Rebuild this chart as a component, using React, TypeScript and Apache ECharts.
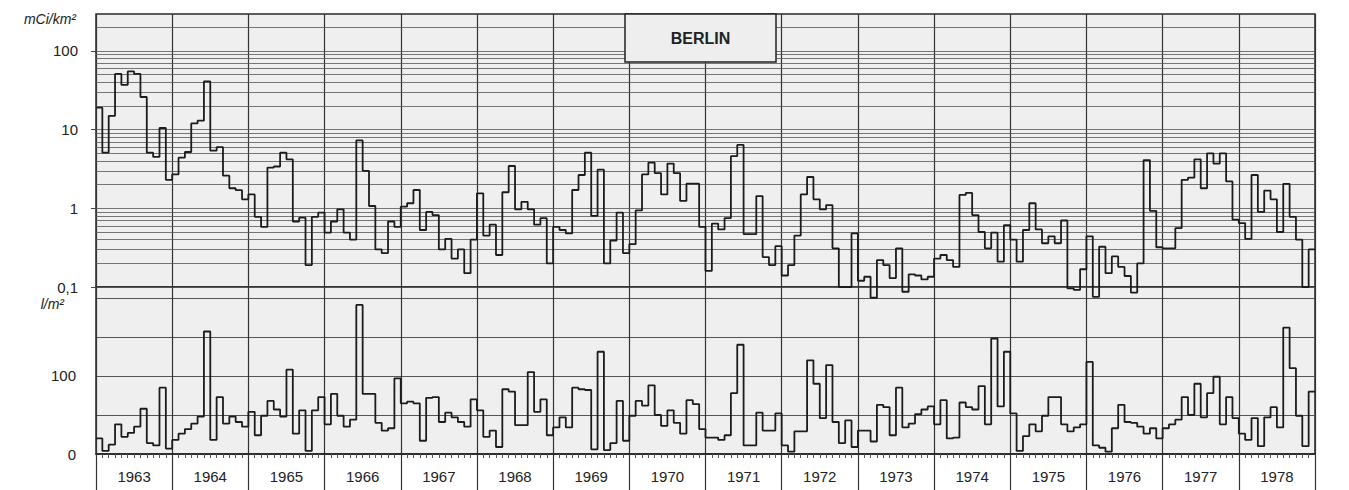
import React, { useEffect, useRef } from "react";
import * as echarts from "echarts";

// Years shown on the time axis (one column = 12 months)
const years = ["1963", "1964", "1965", "1966", "1967", "1968", "1969", "1970", "1971", "1972", "1973", "1974", "1975", "1976", "1977", "1978"];

// Monthly deposited activity, mCi/km² (log scale, upper panel)
const activity = [
  19, 5.1, 15, 51, 37, 55, 51, 26, 5.1, 4.5, 10.5, 2.3, // 1963
  2.7, 4.4, 5.2, 12, 13, 41, 5.4, 6.0, 2.6, 1.8, 1.7, 1.3, // 1964
  1.5, 0.78, 0.58, 3.3, 3.4, 5.1, 4.2, 0.68, 0.76, 0.19, 0.78, 0.88, // 1965
  0.49, 0.68, 0.97, 0.49, 0.4, 7.3, 3.0, 1.07, 0.3, 0.27, 0.68, 0.58, // 1966
  1.05, 1.16, 1.71, 0.53, 0.9, 0.82, 0.3, 0.41, 0.23, 0.3, 0.15, 0.4, // 1967
  1.55, 0.45, 0.62, 0.255, 1.6, 3.45, 0.97, 1.21, 0.97, 0.62, 0.75, 0.2, // 1968
  0.58, 0.53, 0.48, 1.71, 2.65, 5.1, 0.8, 3.1, 0.2, 0.39, 0.88, 0.27, // 1969
  0.35, 0.94, 2.7, 3.8, 2.8, 1.5, 3.7, 2.8, 1.24, 2.06, 2.06, 0.58, // 1970
  0.16, 0.64, 0.54, 0.75, 4.6, 6.4, 0.47, 0.47, 1.43, 0.24, 0.19, 0.33, // 1971
  0.14, 0.19, 0.45, 1.5, 2.5, 1.3, 0.97, 1.1, 0.31, 0.1, 0.1, 0.48, // 1972
  0.12, 0.135, 0.073, 0.22, 0.19, 0.13, 0.31, 0.087, 0.145, 0.14, 0.125, 0.135, // 1973
  0.23, 0.255, 0.22, 0.18, 1.48, 1.57, 0.82, 0.5, 0.31, 0.49, 0.21, 0.61, // 1974
  0.4, 0.21, 0.53, 1.16, 0.54, 0.36, 0.44, 0.36, 0.7, 0.096, 0.092, 0.168, // 1975
  0.44, 0.075, 0.325, 0.15, 0.245, 0.18, 0.138, 0.085, 0.2, 4.1, 0.93, 0.32, // 1976
  0.31, 0.31, 0.56, 2.3, 2.45, 4.2, 1.8, 5.0, 3.7, 5.0, 2.2, 0.72, // 1977
  0.65, 0.41, 2.65, 0.9, 1.68, 1.3, 0.5, 2.05, 0.78, 0.4, 0.1, 0.3, // 1978
];

// Monthly precipitation, l/m² (lower panel)
const rain = [
  20, 4, 12, 38, 22, 27, 35, 58, 14, 11, 85, 7, // 1963
  18, 26, 32, 39, 48, 157, 18, 73, 39, 48, 41, 35, // 1964
  54, 24, 49, 68, 57, 48, 108, 26, 56, 4, 56, 73, // 1965
  38, 77, 49, 35, 44, 191, 77, 77, 40, 30, 33, 97, // 1966
  65, 67, 65, 17, 72, 73, 41, 53, 47, 41, 35, 70, // 1967
  56, 22, 30, 9, 83, 80, 37, 37, 105, 54, 70, 24, // 1968
  34, 47, 34, 85, 83, 82, 6, 131, 5, 14, 68, 17, // 1969
  49, 68, 62, 88, 50, 36, 56, 40, 26, 69, 64, 32, // 1970
  21, 21, 18, 24, 78, 140, 11, 11, 53, 30, 30, 52, // 1971
  11, 3, 29, 29, 120, 90, 46, 114, 41, 14, 43, 9, // 1972
  30, 30, 16, 63, 60, 24, 85, 34, 39, 51, 57, 61, // 1973
  38, 69, 20, 21, 66, 60, 57, 87, 38, 148, 61, 131, // 1974
  52, 4, 23, 38, 29, 49, 73, 73, 38, 29, 34, 38, // 1975
  118, 11, 8, 3, 33, 63, 41, 40, 35, 26, 33, 20, // 1976
  33, 38, 44, 73, 50, 90, 47, 78, 99, 38, 73, 46, // 1977
  26, 18, 46, 10, 47, 60, 34, 162, 110, 49, 10, 80, // 1978
];

// Axis settings
const activityRange = [0.1, 295];
const activityDecades = [0.1, 1, 10, 100];
const rainRange = [0, 214];
const rainLabels = [0, 100];
const stationName = "BERLIN";

const FONT = '"Liberation Sans", Arial, Helvetica, sans-serif';

function stepData(arr: number[]) {
  const pts: number[][] = arr.map((v, i) => [i, v]);
  pts.push([arr.length, arr[arr.length - 1]]);
  return pts;
}

export default function App() {
  const ref = useRef<HTMLDivElement>(null);
  useEffect(() => {
    const chart = echarts.init(ref.current!, null, { renderer: "svg" });
    const months = years.length * 12;
    const levels: number[] = [];
    activityDecades.forEach((d) => {
      for (let k = 1; k <= 9; k++) {
        const v = k * d;
        if (v > activityRange[0] * 1.0001 && v < activityRange[1]) levels.push(v);
      }
    });
    const ink = "#1c1c1c";
    chart.setOption({
      animation: false,
      backgroundColor: "#ffffff",
      textStyle: { fontFamily: FONT },
      grid: [
        { left: 96, top: 14, width: 1219, height: 273, show: true, backgroundColor: "#efefef", borderColor: "#2a2a2a", borderWidth: 1.5 },
        { left: 96, top: 287, width: 1219, height: 167, show: true, backgroundColor: "#efefef", borderColor: "#2a2a2a", borderWidth: 1.5 },
      ],
      xAxis: [
        {
          type: "value", gridIndex: 0, min: 0, max: months, interval: 12,
          axisLabel: { show: false }, axisTick: { show: false }, axisLine: { show: false },
          splitLine: { show: true, lineStyle: { color: "#333", width: 1.2 } },
        },
        {
          type: "value", gridIndex: 1, min: 0, max: months, interval: 12,
          axisLabel: { show: false },
          axisLine: { show: true, lineStyle: { color: "#222", width: 1.5 } },
          axisTick: { show: true, length: 36, lineStyle: { color: "#333", width: 1.2 } },
          minorTick: { show: true, splitNumber: 12, length: 4, lineStyle: { color: "#555", width: 1 } },
          splitLine: { show: true, lineStyle: { color: "#333", width: 1.2 } },
        },
        {
          type: "category", gridIndex: 1, data: years, position: "bottom",
          axisLine: { show: false }, axisTick: { show: false }, splitLine: { show: false },
          axisLabel: { margin: 15, fontSize: 15, color: "#222", fontFamily: FONT },
        },
      ],
      yAxis: [
        {
          type: "log", gridIndex: 0, logBase: 10, min: activityRange[0], max: activityRange[1],
          axisLine: { show: false },
          axisTick: { show: true, length: 5, lineStyle: { color: "#444" } },
          splitLine: { show: false },
          axisLabel: {
            margin: 18, fontSize: 15, color: "#222", fontFamily: FONT, showMaxLabel: false,
            formatter: (v: number) => {
              const l = Math.log10(v);
              if (Math.abs(l - Math.round(l)) > 1e-6) return "";
              return v < 1 ? String(v).replace(".", ",") : String(Math.round(v));
            },
          },
        },
        {
          type: "value", gridIndex: 1, min: rainRange[0], max: rainRange[1], interval: 50,
          axisLine: { show: false }, axisTick: { show: false },
          splitLine: { show: true, lineStyle: { color: "#555", width: 1 } },
          axisLabel: {
            margin: 20, fontSize: 15, color: "#222", fontFamily: FONT, showMaxLabel: false,
            formatter: (v: number) => (rainLabels.indexOf(v) >= 0 ? String(v) : ""),
          },
        },
      ],
      series: [
        {
          type: "line", xAxisIndex: 0, yAxisIndex: 0, data: [[0, 1]], symbol: "none",
          lineStyle: { opacity: 0 }, silent: true, z: 1,
          markLine: {
            silent: true, symbol: ["none", "none"], label: { show: false }, animation: false,
            lineStyle: { color: "#555", width: 0.8, type: "solid" },
            emphasis: { disabled: true },
            data: levels.map((v) => ({ yAxis: v })),
          },
        },
        {
          type: "line", step: "end", xAxisIndex: 0, yAxisIndex: 0, data: stepData(activity),
          symbol: "none", clip: false, z: 5, lineStyle: { color: ink, width: 1.8 },
        },
        {
          type: "line", step: "end", xAxisIndex: 1, yAxisIndex: 1, data: stepData(rain),
          symbol: "none", z: 5, lineStyle: { color: ink, width: 1.8 },
        },
      ],
      graphic: [
        {
          type: "rect", z: 100, shape: { x: 625, y: 14, width: 151, height: 48 },
          style: { fill: "#eeeeee", stroke: "#222", lineWidth: 1.5 },
        },
        {
          type: "text", z: 101, x: 700.5, y: 38,
          style: { text: stationName, font: `bold 16px ${FONT}`, fill: "#222", textAlign: "center", textVerticalAlign: "middle", align: "center", verticalAlign: "middle" },
        },
        {
          type: "text", z: 101, x: 76, y: 19,
          style: { text: "mCi/km²", font: `italic 14px ${FONT}`, fill: "#222", textAlign: "right", textVerticalAlign: "middle", align: "right", verticalAlign: "middle" },
        },
        {
          type: "text", z: 101, x: 64, y: 304,
          style: { text: "l/m²", font: `italic 14px ${FONT}`, fill: "#222", textAlign: "right", textVerticalAlign: "middle", align: "right", verticalAlign: "middle" },
        },
      ],
    });
    return () => chart.dispose();
  }, []);
  return <div ref={ref} style={{ position: "fixed", left: 0, top: 0, width: 1349, height: 490 }} />;
}
